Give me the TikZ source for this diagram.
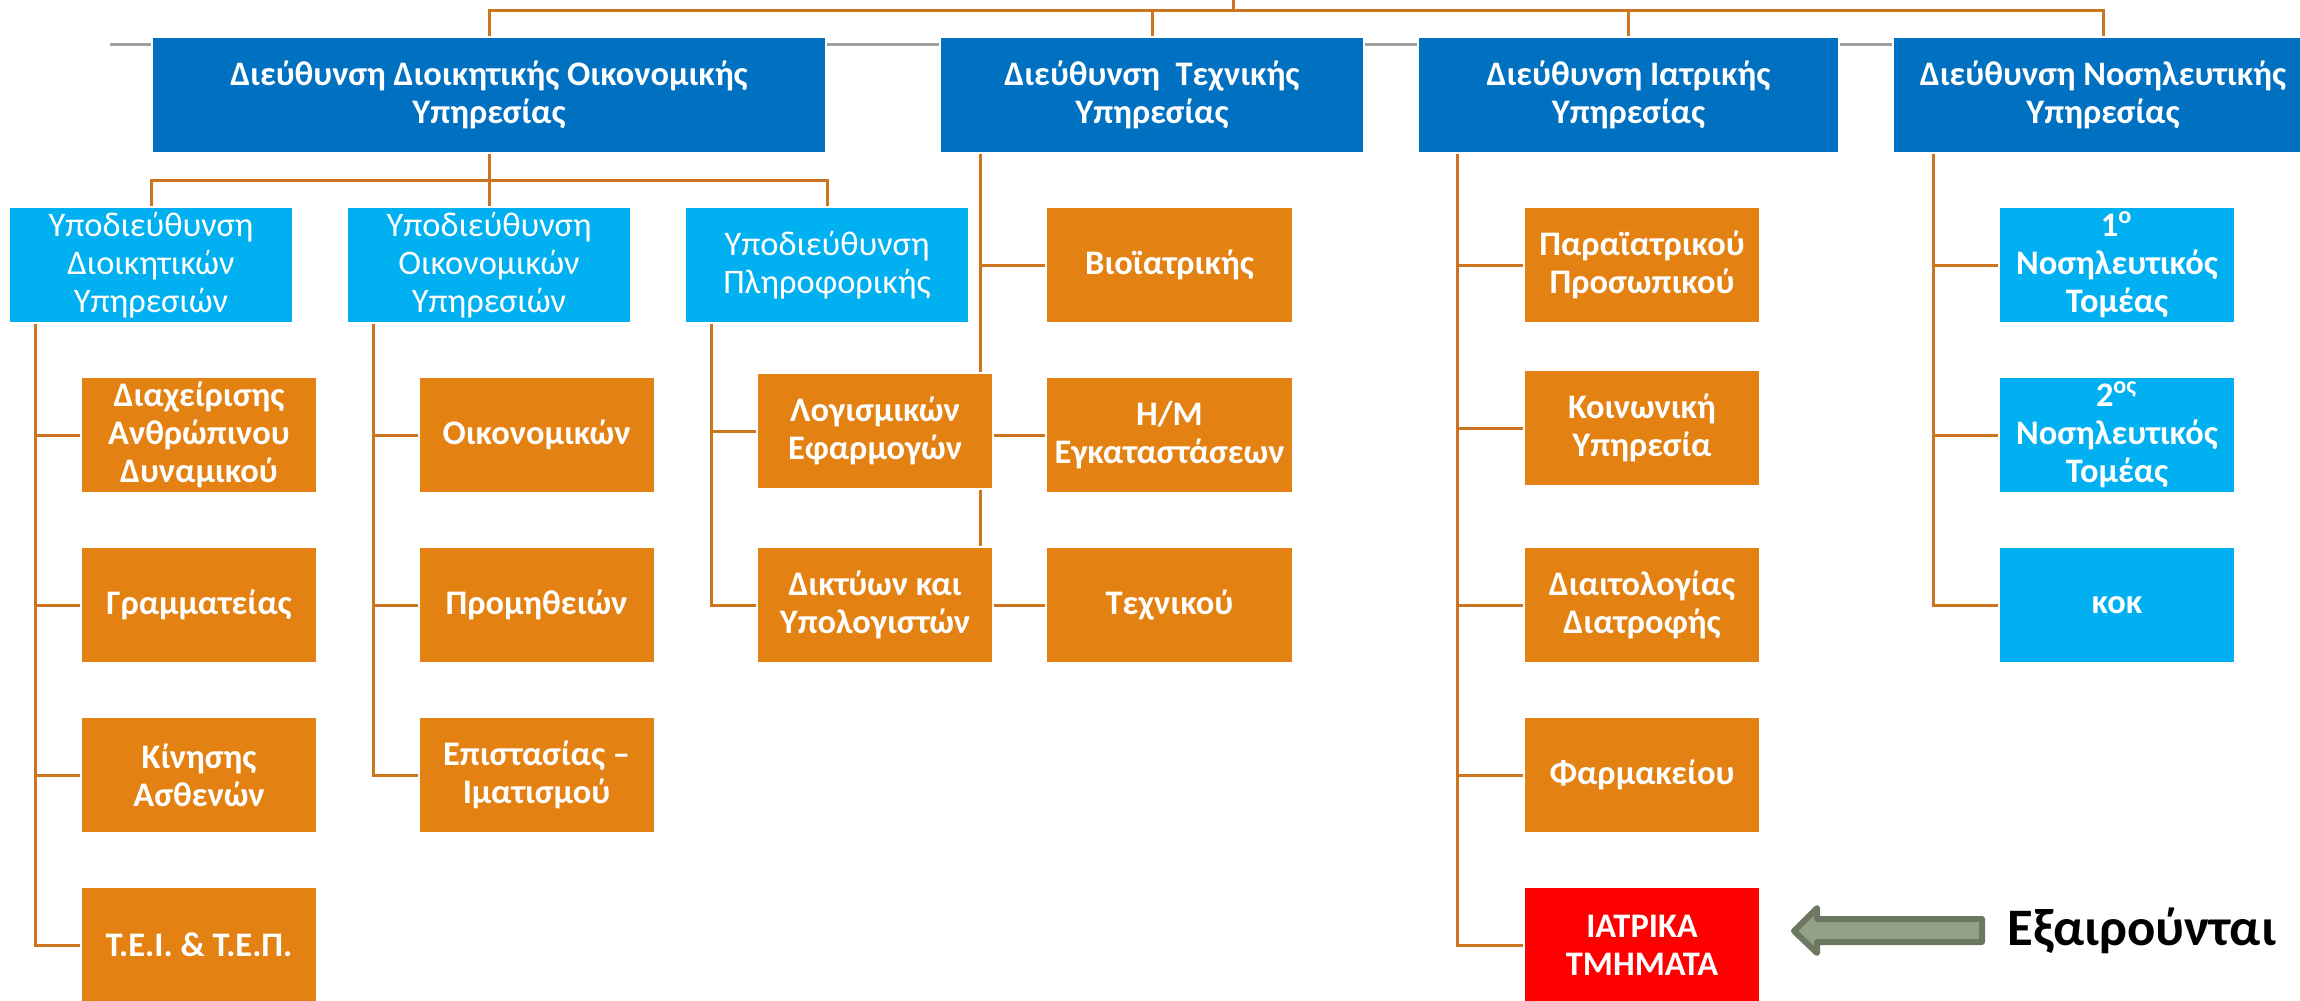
\documentclass[tikz,border=0pt]{standalone}
\usepackage{fontspec}
\setmainfont{Carlito}
\usetikzlibrary{positioning, backgrounds}
\definecolor{darkblue}{RGB}{0,112,192}
\definecolor{lightblue}{RGB}{0,176,240}
\definecolor{boxorange}{RGB}{227,130,18}
\definecolor{lineorange}{RGB}{204,116,30}
\definecolor{railgray}{RGB}{160,160,160}
\definecolor{arrowgreen}{RGB}{148,160,135}
\definecolor{arrowedge}{RGB}{108,120,98}

\begin{document}
\begin{tikzpicture}[x=0.1mm, y=-0.1mm, node distance=17mm]

		% Define block styles
		\tikzstyle{director} = [rectangle, fill=darkblue, draw=white, line width=0.2mm, text=white, minimum height=11.6mm, inner sep=0pt, align=center, font=\fontsize{9.8}{10.8}\selectfont\bfseries]
		\tikzstyle{subdir} = [rectangle, fill=lightblue, draw=white, line width=0.2mm, text=white, minimum width=28.4mm, minimum height=11.6mm, inner sep=0pt, align=center, font=\fontsize{9.8}{10.8}\selectfont]
		\tikzstyle{unit} = [rectangle, fill=boxorange, draw=white, line width=0.2mm, text=white, minimum width=23.6mm, minimum height=11.6mm, inner sep=0pt, align=center, font=\fontsize{9.8}{10.8}\selectfont\bfseries]
		\tikzstyle{ward} = [unit, fill=lightblue]
		\tikzstyle{excl} = [unit, fill=red]
		\tikzstyle{link} = [draw=lineorange, line width=0.3mm]

		\useasboundingbox (0,0) rectangle (2300,1000);
		\clip (0,0) rectangle (2300,1000);

		% Nodes
		\node[director, minimum width=67.4mm] (dioik) at (489,95) {Διεύθυνση Διοικητικής Οικονομικής\\Υπηρεσίας};
		\node[director, minimum width=42.4mm] (tech) at (1152,95) {Διεύθυνση\ \ Τεχνικής\\Υπηρεσίας};
		\node[director, minimum width=42.1mm] (iatr) at (1628.5,95) {Διεύθυνση Ιατρικής\\Υπηρεσίας};
		\node[director, minimum width=42mm] (nosil) at (2103,95) {Διεύθυνση Νοσηλευτικής\\Υπηρεσίας};

		\node[subdir] (ydioik) at (151,265) {Υποδιεύθυνση\\Διοικητικών\\Υπηρεσιών};
		\node[subdir] (yoik) at (489,265) {Υποδιεύθυνση\\Οικονομικών\\Υπηρεσιών};
		\node[subdir] (ypliro) at (827,265) {Υποδιεύθυνση\\Πληροφορικής};

		\node[unit] (anthr) at (199,435) {Διαχείρισης\\Ανθρώπινου\\Δυναμικού};
		\node[unit, below of=anthr] (gramm) {Γραμματείας};
		\node[unit, below of=gramm] (kinisi) {Κίνησης\\Ασθενών};
		\node[unit, below of=kinisi] (tei) {Τ.Ε.Ι. \& Τ.Ε.Π.};

		\node[unit] (oikon) at (536.5,435) {Οικονομικών};
		\node[unit, below of=oikon] (prom) {Προμηθειών};
		\node[unit, below of=prom] (epist) {Επιστασίας –\\Ιματισμού};

		\node[unit] (logism) at (875,431) {Λογισμικών\\Εφαρμογών};
		\node[unit] (diktyon) at (875,605) {Δικτύων και\\Υπολογιστών};

		\node[unit, minimum width=24.7mm] (bioiatr) at (1169.5,265) {Βιοϊατρικής};
		\node[unit, minimum width=24.7mm, below of=bioiatr] (hm) {Η/Μ\\Εγκαταστάσεων};
		\node[unit, minimum width=24.7mm, below of=hm] (techniko) {Τεχνικού};

		\node[unit] (paraiatr) at (1642,265) {Παραϊατρικού\\Προσωπικού};
		\node[unit] (koinon) at (1642,428) {Κοινωνική\\Υπηρεσία};
		\node[unit] (diait) at (1642,605) {Διαιτολογίας\\Διατροφής};
		\node[unit, below of=diait] (farm) {Φαρμακείου};
		\node[excl, below of=farm] (iatrika) {ΙΑΤΡΙΚΑ\\ΤΜΗΜΑΤΑ};

		\node[ward] (nos1) at (2117,265) {1\textsuperscript{ο}\\Νοσηλευτικός\\Τομέας};
		\node[ward, below of=nos1] (nos2) {2\textsuperscript{ος}\\Νοσηλευτικός\\Τομέας};
		\node[ward, below of=nos2] (kok) {κοκ};

		% Labels
		\node[font=\fontsize{15}{17}\selectfont\bfseries] (exclude) at (2142,931) {Εξαιρούνται};
		\draw[fill=arrowgreen, draw=arrowedge, line width=0.6mm, line join=round] (1794,931) -- (1817,908) -- (1817,919) -- (1982,919) -- (1982,942) -- (1817,942) -- (1817,953) -- cycle;

		% Arrows
		\begin{scope}[on background layer]
			\coordinate (grayleft) at (110,44);
			\coordinate (grayright) at (2300,44);
			\draw[railgray, line width=0.3mm] (grayleft) -- (grayright);

			\coordinate (topend) at (1233,0);
			\coordinate (toprail) at (1233,10);
			\draw[link] (topend) -- (toprail);
			\draw[link] (dioik.north) -- (dioik.north |- toprail) -| (nosil.north);
			\draw[link] (tech.north) -- (tech.north |- toprail);
			\draw[link] (iatr.north) -- (iatr.north |- toprail);

			\coordinate (subrail) at (489,180);
			\draw[link] (dioik.south) -- (subrail) -- (yoik.north);
			\draw[link] (ydioik.north) |- (subrail) -| (ypliro.north);

			\foreach \n in {anthr, gramm, kinisi, tei}
				\draw[link] ([xshift=2.7mm]ydioik.south west) |- (\n.west);
			\foreach \n in {oikon, prom, epist}
				\draw[link] ([xshift=2.7mm]yoik.south west) |- (\n.west);
			\foreach \n in {logism, diktyon}
				\draw[link] ([xshift=2.7mm]ypliro.south west) |- (\n.west);

			\foreach \n in {bioiatr, hm, techniko}
				\draw[link] ([xshift=4.1mm]tech.south west) |- (\n.west);
			\foreach \n in {paraiatr, koinon, diait, farm, iatrika}
				\draw[link] ([xshift=4mm]iatr.south west) |- (\n.west);
			\foreach \n in {nos1, nos2, kok}
				\draw[link] ([xshift=4.1mm]nosil.south west) |- (\n.west);
		\end{scope}

	\end{tikzpicture}
\end{document}
